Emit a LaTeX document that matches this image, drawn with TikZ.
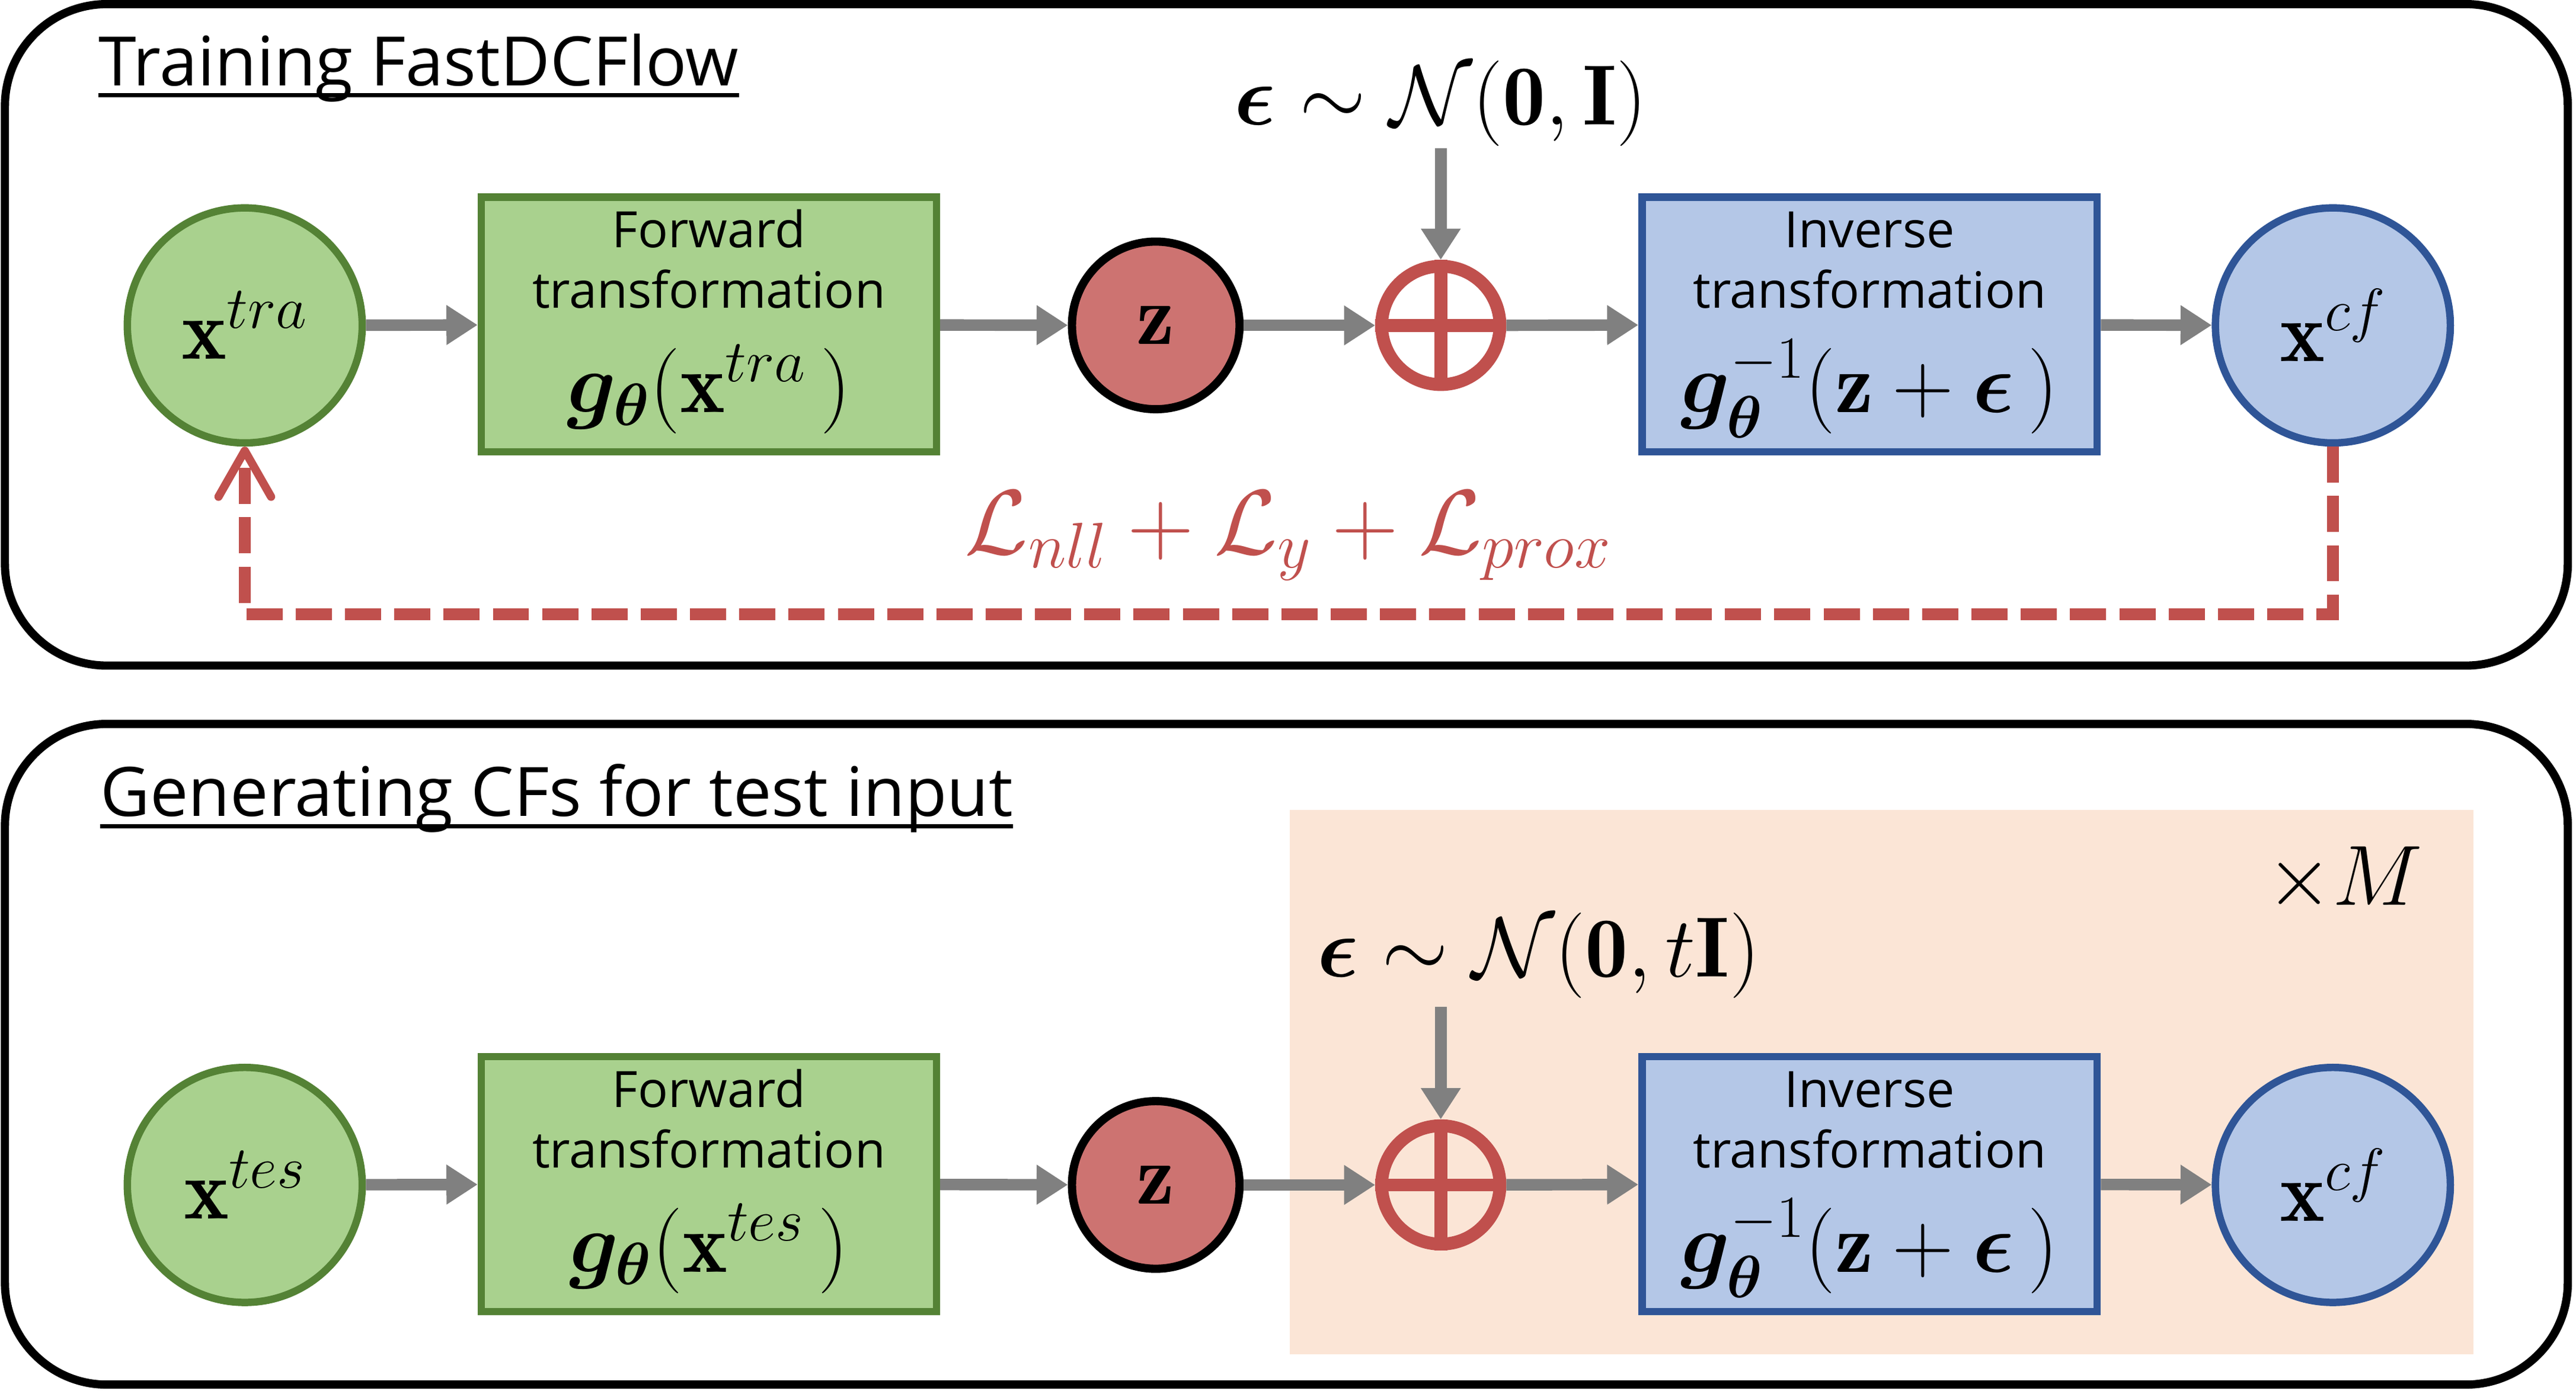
\RequirePackage{fix-cm}
\documentclass[tikz,border=0pt]{standalone}
\usepackage{amsmath,amssymb,bm}
\usepackage{fontspec}
\setsansfont{Open Sans}
\usepackage{tikz}
\usetikzlibrary{arrows.meta}
\usetikzlibrary{calc}

\definecolor{FwdGreen}{HTML}{A9D18E}
\definecolor{FwdEdge}{HTML}{548235}
\definecolor{InvBlue}{HTML}{B4C7E7}
\definecolor{InvEdge}{HTML}{2F5597}
\definecolor{LatentRed}{HTML}{CD7371}
\definecolor{LossRed}{HTML}{C0504D}
\definecolor{FlowGray}{HTML}{808080}
\definecolor{CFPeach}{HTML}{FBE5D6}

\newcommand{\mathsz}{\fontsize{52}{62}\selectfont}
\newcommand{\formstrut}{\rule[-19.4pt]{0pt}{66.4pt}}

\begin{document}
\begin{tikzpicture}[x=1pt, y=-1pt,
    panel/.style={draw=black, line width=5pt, rounded corners=62pt},
    datanode/.style={circle, line width=4.5pt, minimum size=143pt, inner sep=0pt, font=\mathsz},
    transbox/.style={rectangle, line width=4.5pt, minimum width=277pt, minimum height=155pt,
        inner sep=0pt, align=center, font=\sffamily\fontsize{30.5}{37}\selectfont},
    latent/.style={circle, draw=black, fill=LatentRed, line width=5pt, minimum size=102pt,
        inner sep=0pt, font=\mathsz},
    adder/.style={circle, draw=LossRed, line width=7.8pt, minimum size=72pt, inner sep=0pt},
    flow/.style={draw=FlowGray, line width=7pt, -{Triangle[length=19pt,width=23pt]}},
    loss/.style={draw=LossRed, line width=7pt, dash pattern=on 22pt off 8pt,
        -{Straight Barb[length=28pt,width=32pt,line width=5pt,round]}},
    title/.style={anchor=base west, inner sep=0pt, font=\sffamily\fontsize{41.5}{50}\selectfont},
    mlabel/.style={inner sep=1pt, font=\mathsz}]
    \useasboundingbox (0,0) rectangle (1568,848.2);

    % panels
    \draw[panel] (3,2.5) rectangle (1563,405);
    \draw[panel] (3,440.5) rectangle (1563,842.5);
    \fill[CFPeach] (785,493) rectangle (1505.5,824);

    % training
    \node[title] (traintitle) at (60,52) {Training FastDCFlow};
    \draw[line width=2.5pt] ([yshift=-5.8pt]traintitle.base west) -- ([yshift=-5.8pt]traintitle.base east);

    \node[datanode, draw=FwdEdge, fill=FwdGreen] (xtra) at (149,198) {$\mathbf{x}^{tra}$};
    \node[transbox, draw=FwdEdge, fill=FwdGreen] (fwd) at (431.5,197.5)
        {\strut Forward\\transformation\\[15pt]{\mathsz\formstrut$\boldsymbol{g}_{\boldsymbol{\theta}}(\mathbf{x}^{tra}\,)$}};
    \node[latent] (z) at (703.5,198) {$\mathbf{z}$};
    \node[adder] (sum) at (877,198) {};
    \draw[LossRed, line width=7.8pt] (sum.north) -- (sum.south) (sum.west) -- (sum.east);
    \node[transbox, draw=InvEdge, fill=InvBlue] (inv) at (1138,197.5)
        {\strut Inverse\\transformation\\[15pt]{\mathsz\formstrut$\boldsymbol{g}_{\boldsymbol{\theta}}^{-1}(\mathbf{z}+\boldsymbol{\epsilon}\,)$}};
    \node[datanode, draw=InvEdge, fill=InvBlue] (xcf) at (1420,198) {$\mathbf{x}^{cf}$};
    \node[mlabel, anchor=base] (eps) at (877,76) {$\boldsymbol{\epsilon}\sim\mathcal{N}(\mathbf{0},\mathbf{I})$};

    \draw[flow] (xtra) -- (fwd);
    \draw[flow] (fwd) -- (z);
    \draw[flow] (z) -- (sum);
    \draw[flow] (sum) -- (inv);
    \draw[flow] (inv) -- (xcf);
    \draw[flow] (eps) -- (sum);

    \node[mlabel, anchor=base, text=LossRed, font=\fontsize{56}{66}\selectfont] (lossterm) at (784,337)
        {$\mathcal{L}_{nll}+\mathcal{L}_{y}+\mathcal{L}_{prox}$};
    \draw[loss] (xcf.south) -- ++(0,102) -| (xtra.south);

    % generating
    \node[title] (gentitle) at (61,496.5) {Generating CFs for test input};
    \draw[line width=2.5pt] ([yshift=-6.3pt]gentitle.base west) -- ([yshift=-6.3pt]gentitle.base east);

    \node[datanode, draw=FwdEdge, fill=FwdGreen] (xtes) at (149,721) {$\mathbf{x}^{tes}$};
    \node[transbox, draw=FwdEdge, fill=FwdGreen] (fwd2) at (431.5,720.5)
        {\strut Forward\\transformation\\[15pt]{\mathsz\formstrut$\boldsymbol{g}_{\boldsymbol{\theta}}(\mathbf{x}^{tes}\,)$}};
    \node[latent] (z2) at (703.5,721) {$\mathbf{z}$};
    \node[adder] (sum2) at (877,721) {};
    \draw[LossRed, line width=7.8pt] (sum2.north) -- (sum2.south) (sum2.west) -- (sum2.east);
    \node[transbox, draw=InvEdge, fill=InvBlue] (inv2) at (1138,720.5)
        {\strut Inverse\\transformation\\[15pt]{\mathsz\formstrut$\boldsymbol{g}_{\boldsymbol{\theta}}^{-1}(\mathbf{z}+\boldsymbol{\epsilon}\,)$}};
    \node[datanode, draw=InvEdge, fill=InvBlue] (xcf2) at (1420,721) {$\mathbf{x}^{cf}$};
    \node[mlabel, anchor=base] (eps2) at (936.5,594.5) {$\boldsymbol{\epsilon}\sim\mathcal{N}(\mathbf{0},t\mathbf{I})$};
    \node[mlabel] (repeat) at (1427,535) {$\times M$};

    \draw[flow] (xtes) -- (fwd2);
    \draw[flow] (fwd2) -- (z2);
    \draw[flow] (z2) -- (sum2);
    \draw[flow] (sum2) -- (inv2);
    \draw[flow] (inv2) -- (xcf2);
    \draw[flow] ([yshift=-4pt]eps2.south -| sum2) -- (sum2);
\end{tikzpicture}
\end{document}
